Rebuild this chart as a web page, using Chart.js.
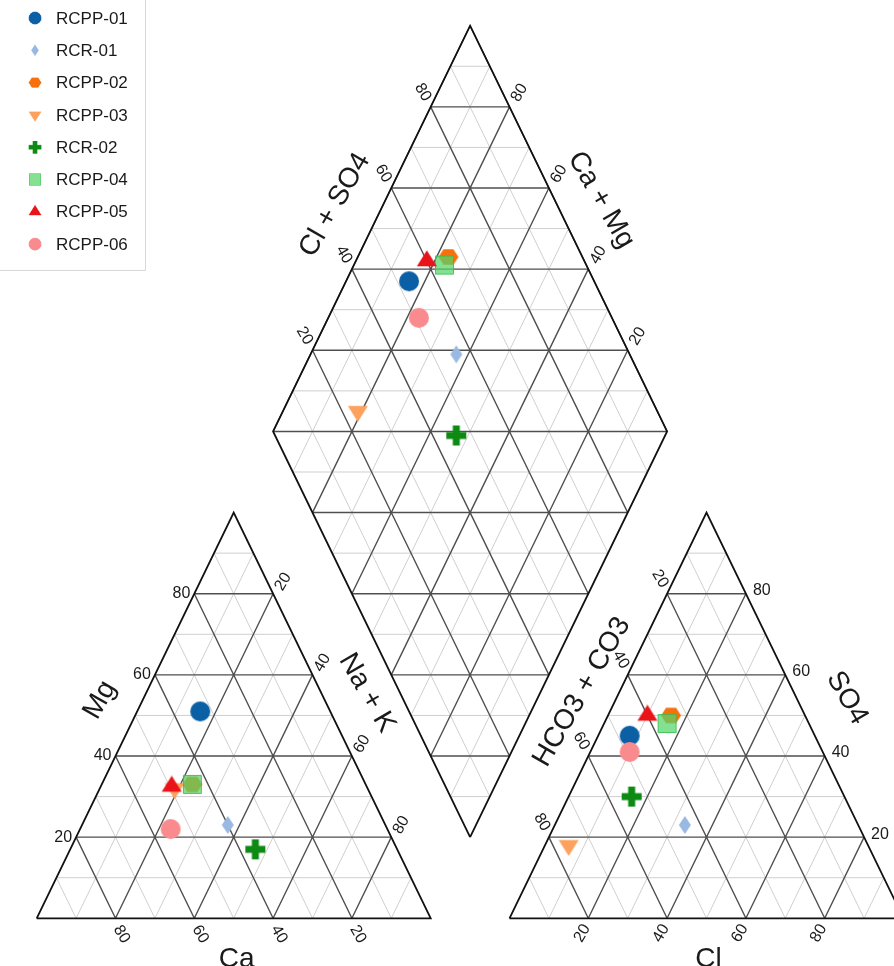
<!DOCTYPE html>
<html>
<head>
<meta charset="utf-8">
<script src="https://cdn.jsdelivr.net/npm/chart.js@4.4.0/dist/chart.umd.min.js"></script>
<style>
  html, body { margin: 0; padding: 0; background: #fff; }
  #wrap { width: 894px; height: 966px; }
</style>
</head>
<body>
<div id="wrap"><canvas id="piper" width="894" height="966"></canvas></div>
<script>
// sample names, legend order
const samples = ['RCPP-01', 'RCR-01', 'RCPP-02', 'RCPP-03', 'RCR-02', 'RCPP-04', 'RCPP-05', 'RCPP-06'];

// cations (% meq/L)
const caPct  = [33, 40, 44, 49, 36, 44, 49.5, 55];
const mgPct  = [51, 23, 33, 32, 17, 33, 32.5, 22];
const naKPct = [16, 37, 23, 19, 47, 23, 18, 23];

// anions (% meq/L)
const hco3Pct = [47, 44, 34, 76, 54, 36, 40, 49];
const so4Pct  = [45, 23, 50, 18, 30, 48, 50, 41];
const clPct   = [8, 33, 16, 6, 16, 16, 10, 10];

const tickValues  = [20, 40, 60, 80];
const majorLevels = [20, 40, 60, 80];
const minorLevels = [10, 30, 50, 70, 90];

const colors = ['#0b5fa5', '#9ab9e2', '#f7700e', '#fda25e', '#0d8a12', 'rgba(84,214,104,0.72)', '#e8141a', '#f98b8f'];

const FONT = '"Liberation Sans", Arial, sans-serif';
const H = Math.sqrt(3) / 2;
const GAP = 20;

// ternary -> plot coordinates
function cationXY(ca, mg, na) {
  const s = ca + mg + na;
  return { x: 100 * (na + mg / 2) / s, y: 100 * mg * H / s };
}
function anionXY(hco3, so4, cl) {
  const s = hco3 + so4 + cl;
  return { x: 100 + GAP + 100 * (cl + so4 / 2) / s, y: 100 * so4 * H / s };
}
function diamondXY(caMg, clSo4) {
  return { x: 100 + GAP / 2 - caMg / 2 + clSo4 / 2, y: GAP * H + (caMg + clSo4) * H };
}

function triLines(V, levels) {
  const pts = [];
  for (let k = 0; k < 3; k++) {
    const a = V[k], b = V[(k + 1) % 3], c = V[(k + 2) % 3];
    levels.forEach(l => {
      const t = l / 100;
      pts.push({ x: a.x * t + b.x * (1 - t), y: a.y * t + b.y * (1 - t) });
      pts.push({ x: a.x * t + c.x * (1 - t), y: a.y * t + c.y * (1 - t) });
      pts.push({ x: null, y: null });
    });
  }
  return pts;
}

function diamondLines(levels) {
  const pts = [];
  levels.forEach(l => {
    pts.push(diamondXY(l, 0), diamondXY(l, 100), { x: null, y: null });
    pts.push(diamondXY(0, l), diamondXY(100, l), { x: null, y: null });
    // horizontals below and above the middle line
    pts.push(diamondXY(l, 0), diamondXY(0, l), { x: null, y: null });
    pts.push(diamondXY(100, l), diamondXY(l, 100), { x: null, y: null });
  });
  return pts;
}

const catV = [cationXY(100, 0, 0), cationXY(0, 0, 100), cationXY(0, 100, 0)];
const aniV = [anionXY(100, 0, 0), anionXY(0, 0, 100), anionXY(0, 100, 0)];

function outline() {
  const d = [diamondXY(0, 0), diamondXY(100, 0), diamondXY(100, 100), diamondXY(0, 100)];
  return [...catV, catV[0], { x: null, y: null },
          ...aniV, aniV[0], { x: null, y: null },
          ...d, d[0]];
}

// marker images
function makeMarker(w, h, draw) {
  const c = document.createElement('canvas');
  c.width = w; c.height = h;
  draw(c.getContext('2d'), w, h);
  return c;
}
function poly(g, pts, fill, stroke) {
  g.beginPath();
  pts.forEach((p, i) => i ? g.lineTo(p[0], p[1]) : g.moveTo(p[0], p[1]));
  g.closePath();
  g.fillStyle = fill; g.fill();
  if (stroke) { g.strokeStyle = stroke; g.lineWidth = 1; g.stroke(); }
}
const markers = [
  makeMarker(22, 22, g => { g.beginPath(); g.arc(11, 11, 10, 0, 2 * Math.PI); g.fillStyle = colors[0]; g.fill(); }),
  makeMarker(14, 20, g => poly(g, [[7, 1], [13, 10], [7, 19], [1, 10]], colors[1])),
  makeMarker(22, 20, g => {
    const p = [];
    for (let i = 0; i < 6; i++) p.push([11 + 10 * Math.cos(i * Math.PI / 3), 10 + 9 * Math.sin(i * Math.PI / 3)]);
    poly(g, p, colors[2]);
  }),
  makeMarker(22, 22, g => poly(g, [[1, 5.7], [21, 5.7], [11, 21.7]], colors[3])),
  makeMarker(22, 22, g => {
    g.fillStyle = colors[4];
    g.fillRect(7.5, 1, 7, 20);
    g.fillRect(1, 7.5, 20, 7);
  }),
  makeMarker(21, 21, g => poly(g, [[1.5, 1.5], [19.5, 1.5], [19.5, 19.5], [1.5, 19.5]], colors[5], 'rgba(50,190,80,0.85)')),
  makeMarker(22, 22, g => poly(g, [[11, 0.3], [21, 16.3], [1, 16.3]], colors[6])),
  makeMarker(22, 22, g => { g.beginPath(); g.arc(11, 11, 10, 0, 2 * Math.PI); g.fillStyle = colors[7]; g.fill(); })
];

const sampleSets = samples.map((name, i) => ({
  label: name,
  data: [
    cationXY(caPct[i], mgPct[i], naKPct[i]),
    anionXY(hco3Pct[i], so4Pct[i], clPct[i]),
    diamondXY(caPct[i] + mgPct[i], clPct[i] + so4Pct[i])
  ],
  pointStyle: markers[i],
  pointRadius: 10,
  showLine: false,
  order: 10 - i
}));

const lineSet = (data, color, width, order) => ({
  label: '_grid',
  data: data,
  showLine: true,
  spanGaps: false,
  pointRadius: 0,
  borderColor: color,
  borderWidth: width,
  order: order
});

const minorData = [...triLines(catV, minorLevels), ...triLines(aniV, minorLevels), ...diamondLines(minorLevels)];
const majorData = [...triLines(catV, majorLevels), ...triLines(aniV, majorLevels), ...diamondLines([...majorLevels, 100])];

const textPlugin = {
  id: 'piperText',
  afterDraw(chart) {
    const ctx = chart.ctx;
    const xs = chart.scales.x, ys = chart.scales.y;
    const px = p => [xs.getPixelForValue(p.x), ys.getPixelForValue(p.y)];
    function txt(str, x, y, rot, size, align, base) {
      ctx.save();
      ctx.translate(x, y);
      ctx.rotate(rot * Math.PI / 180);
      ctx.font = size + 'px ' + FONT;
      ctx.textAlign = align || 'center';
      ctx.textBaseline = base || 'middle';
      ctx.fillStyle = '#1a1a1a';
      ctx.fillText(String(str), 0, 0);
      ctx.restore();
    }
    tickValues.forEach(v => {
      let p = px(cationXY(100 - v, v, 0)); txt(v, p[0] - 4, p[1], 0, 16, 'right');
      p = px(cationXY(0, 100 - v, v)); txt(v, p[0] + 10, p[1] - 12, -60, 16);
      p = px(cationXY(v, 0, 100 - v)); txt(v, p[0] + 6, p[1] + 16, 60, 16);
      p = px(anionXY(v, 100 - v, 0)); txt(v, p[0] - 7, p[1] - 15, 60, 16);
      p = px(anionXY(0, v, 100 - v)); txt(v, p[0] + 7, p[1] - 3, 0, 16, 'left');
      p = px(anionXY(100 - v, 0, v)); txt(v, p[0] - 6, p[1] + 15, -60, 16);
      p = px(diamondXY(100, v)); txt(v, p[0] - 8, p[1] - 14.5, 60, 16);
      p = px(diamondXY(v, 100)); txt(v, p[0] + 10, p[1] - 14, -60, 16);
    });
    // axis titles
    txt('Mg', 100, 700, -60, 28);
    txt('Na + K', 367, 693, 60, 28);
    txt('Cl + SO4', 335, 205, -60, 28);
    txt('Ca + Mg', 601, 200, 60, 28);
    txt('HCO3 + CO3', 582, 692, -60, 28);
    txt('SO4', 847, 698, 60, 28);
    let b = px(cationXY(50, 0, 50)); txt('Ca', b[0] + 3, 967, 0, 28, 'center', 'alphabetic');
    b = px(anionXY(50, 0, 50)); txt('Cl', b[0] + 2, 967, 0, 28, 'center', 'alphabetic');

    // legend
    ctx.save();
    ctx.strokeStyle = '#d8d8d8';
    ctx.lineWidth = 1;
    ctx.beginPath();
    ctx.moveTo(145.5, 0); ctx.lineTo(145.5, 270.5); ctx.lineTo(0, 270.5);
    ctx.stroke();
    samples.forEach((name, i) => {
      const y = 18 + i * 32.3;
      const m = markers[i], s = 0.64;
      ctx.drawImage(m, 35 - m.width * s / 2, y - m.height * s / 2, m.width * s, m.height * s);
      txt(name, 56, y + 1, 0, 17, 'left');
    });
    ctx.restore();
  }
};

new Chart(document.getElementById('piper'), {
  type: 'scatter',
  data: {
    datasets: [
      ...sampleSets,
      lineSet(outline(), '#111', 1.8, 998),
      lineSet(majorData, '#4f4f4f', 1.4, 999),
      lineSet(minorData, '#cfcfcf', 1, 1000)
    ]
  },
  options: {
    responsive: false,
    animation: false,
    layout: { padding: 0, autoPadding: false },
    plugins: { legend: { display: false }, tooltip: { enabled: false } },
    scales: {
      x: { type: 'linear', display: false, min: -9.315, max: 217.59 },
      y: { type: 'linear', display: false, min: -10.18, max: 196.01 }
    }
  },
  plugins: [textPlugin]
});
</script>
</body>
</html>
